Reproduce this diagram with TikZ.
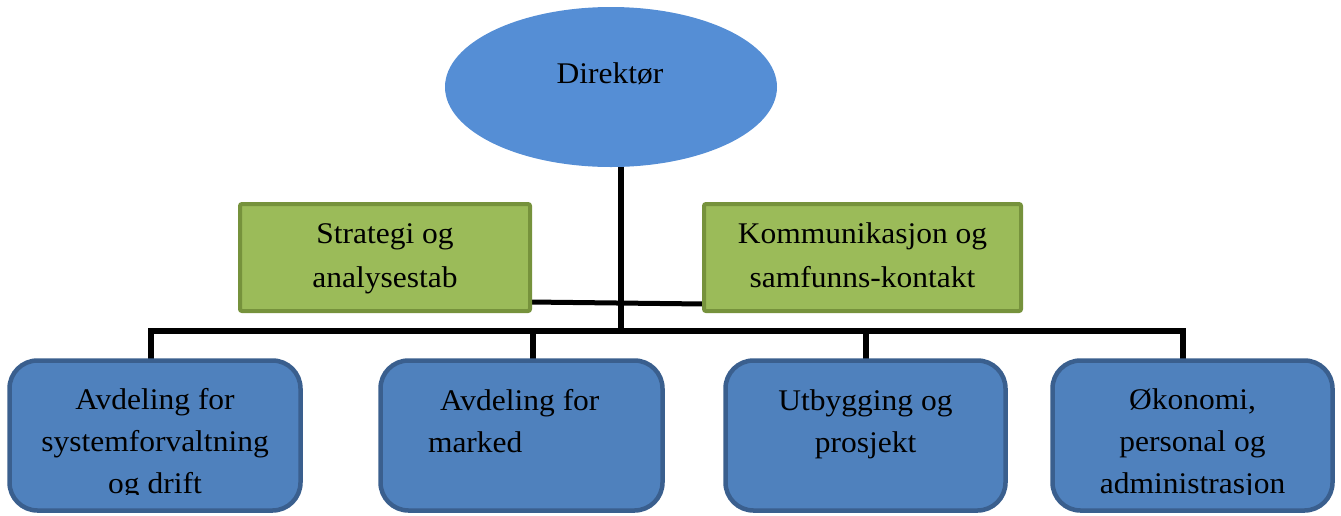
\documentclass[tikz,border=0pt]{standalone}
\usepackage{fontspec}
\setmainfont{Liberation Serif}[FakeStretch=1.05]
\usetikzlibrary{shapes.geometric,backgrounds}
\definecolor{headblue}{RGB}{85,142,213}
\definecolor{unitblue}{RGB}{79,129,189}
\definecolor{unitedge}{RGB}{58,95,142}
\definecolor{staffgreen}{RGB}{155,187,89}
\definecolor{staffedge}{RGB}{118,146,60}
\begin{document}
\begin{tikzpicture}[x=1pt,y=-1pt,
  head/.style={ellipse,fill=headblue,draw=none,inner sep=0,outer sep=0,
    minimum width=332pt,minimum height=160pt},
  staff/.style={rectangle,fill=staffgreen,draw=staffedge,line width=4pt,
    rounded corners=2pt,inner sep=0,outer sep=0,minimum height=107pt},
  unit/.style={rectangle,fill=unitblue,draw=unitedge,line width=4.5pt,
    rounded corners=28pt,inner sep=0,outer sep=0,minimum height=150pt},
  conn/.style={draw=black,line width=6pt},
  txt/.style={inner sep=0,outer sep=0,anchor=base,
    font=\fontsize{30}{42}\selectfont},
  stafftxt/.style={txt,font=\fontsize{30}{44}\selectfont}]
\useasboundingbox (0,0) rectangle (1341,515);

% director
\node[head] (dir) at (611,87) {};
\node[txt] (tdir) at (610,83) {Direktør};

% staff units
\node[staff,minimum width=290pt] (sg) at (385,257.5) {};
\node[staff,minimum width=317pt] (kk) at (862.5,257.5) {};
\node[stafftxt] (tsg) at (385,243)
  {\parbox[t]{290pt}{\centering Strategi og\\analysestab}};
\node[stafftxt] (tkk) at (862.5,243)
  {\parbox[t]{317pt}{\centering Kommunikasjon og\\samfunns-kontakt}};

% line units
\node[unit,minimum width=291pt] (b1) at (155,435.5) {};
\node[unit,minimum width=282pt] (b2) at (521.5,435.5) {};
\node[unit,minimum width=280pt] (b3) at (865.5,435.5) {};
\node[unit,minimum width=280pt] (b4) at (1192.5,435.5) {};

\begin{scope}
  \clip (0,0) rectangle (1341,494);
  \node[txt] (tb1) at (155,409)
    {\parbox[t]{291pt}{\centering Avdeling for\\systemforvaltning\\og drift}};
  \node[txt,anchor=base west] (tb2) at (428,410)
    {\parbox[t]{230pt}{\raggedright\hspace*{12pt}Avdeling for\\marked}};
  \node[txt] (tb3) at (865.5,410)
    {\parbox[t]{280pt}{\centering Utbygging og\\prosjekt}};
  \node[txt] (tb4) at (1192.5,409)
    {\parbox[t]{280pt}{\centering Økonomi,\\personal og\\administrasjon}};
\end{scope}

\coordinate (bar) at (621,331);

\begin{pgfonlayer}{background}
  \draw[conn] (bar |- dir.south) -- (bar);
  \draw[conn] ([xshift=-4pt]b1.north) |- (bar) -| ([xshift=-9.5pt]b4.north);
  \draw[conn] ([xshift=11.5pt]b2.north) -- ([xshift=11.5pt]b2.north |- bar);
  \draw[conn] (b3.north) -- (b3.north |- bar);
  \draw[conn,line width=5pt] ([yshift=9pt]sg.south east) -- ([yshift=7pt]kk.south west);
\end{pgfonlayer}
\end{tikzpicture}
\end{document}
